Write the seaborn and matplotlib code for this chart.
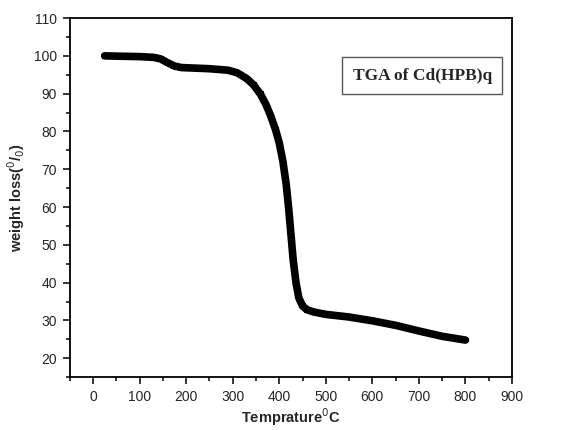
import matplotlib
matplotlib.use("Agg")
import matplotlib.pyplot as plt
from matplotlib.ticker import MultipleLocator
import pandas as pd
import seaborn as sns

# TGA readings taken off the curve
temperature = [25, 60, 100, 130, 145, 160, 175, 190, 210, 250, 290, 310, 330,
               345, 360, 372, 382, 392, 400, 408, 415, 420, 425, 430, 436,
               442, 450, 460, 475, 500, 550, 600, 650, 700, 750, 800]
weight = [100.0, 99.9, 99.8, 99.6, 99.2, 98.2, 97.3, 96.9, 96.8, 96.6, 96.2,
          95.5, 94.0, 92.3, 89.8, 87.0, 84.0, 80.5, 77.0, 72.0, 66.0, 60.0,
          53.0, 46.0, 40.0, 36.0, 33.8, 32.8, 32.2, 31.6, 30.9, 29.9, 28.7,
          27.2, 25.8, 24.8]

df = pd.DataFrame({"temp": temperature, "weight": weight})

sns.set_style("ticks")
plt.rcParams["font.family"] = ["Liberation Sans", "DejaVu Sans"]

fig = plt.figure(figsize=(5.67, 4.30), dpi=100)
ax = fig.add_axes([0.123, 0.123, 0.780, 0.835])

sns.lineplot(data=df, x="temp", y="weight", ax=ax, color="black", lw=5.5,
             marker="s", markersize=5, markeredgewidth=0, sort=False)

ax.set_xlim(-50, 900)
ax.set_ylim(15, 110)
ax.xaxis.set_major_locator(MultipleLocator(100))
ax.xaxis.set_minor_locator(MultipleLocator(50))
ax.yaxis.set_major_locator(MultipleLocator(10))
ax.yaxis.set_minor_locator(MultipleLocator(5))
ax.tick_params(which="major", direction="out", length=5, width=1.1, labelsize=10, pad=4, color="black")
ax.tick_params(which="minor", direction="out", length=3, width=1.1, color="black")
for s in ax.spines.values():
    s.set_linewidth(1.3)
    s.set_color("black")

ax.set_xlabel("Temprature$^0$C", fontsize=10.5, fontweight="bold", labelpad=2)
ax.set_ylabel("weight loss($^0$/$_0$)", fontsize=10.5, fontweight="bold", labelpad=5)

ax.text(0.797, 0.84, "TGA of Cd(HPB)q", transform=ax.transAxes, ha="center", va="center",
        fontsize=12.5, fontweight="bold", family="Liberation Serif",
        bbox=dict(boxstyle="square,pad=0.6", fc="white", ec="#555555", lw=1))

fig.savefig("out.png", dpi=100)
